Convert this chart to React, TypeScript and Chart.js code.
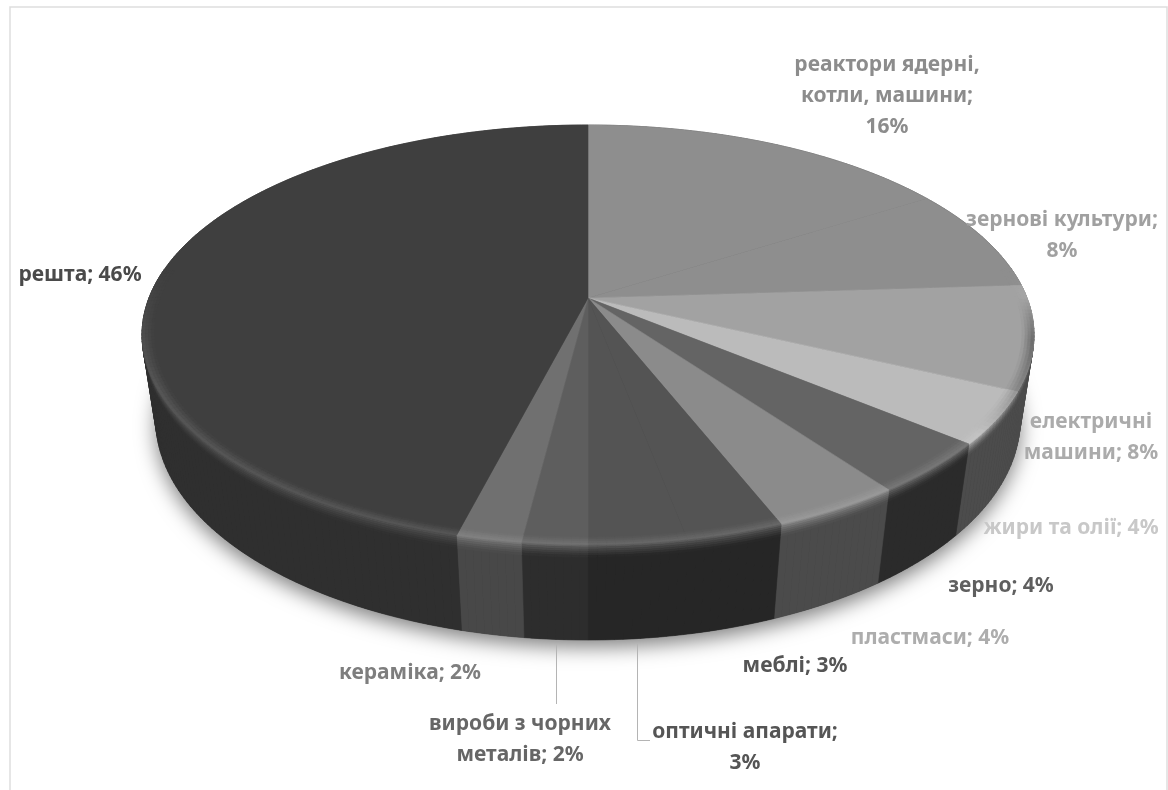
import React, { useEffect, useRef } from "react";
import { Chart, registerables } from "chart.js";

Chart.register(...registerables);

// ---- data ----
const categories = [
  "реактори ядерні, котли, машини",
  "зернові культури",
  "електричні машини",
  "жири та олії",
  "зерно",
  "пластмаси",
  "меблі",
  "оптичні апарати",
  "вироби з чорних металів",
  "кераміка",
  "решта",
];
const shares = [16, 8, 8, 4, 4, 4, 3, 3, 2, 2, 46];
const topColors = ["#8e8e8e", "#8e8e8e", "#a2a2a2", "#bbbbbb", "#646464", "#8b8b8b", "#545454", "#545454", "#5e5e5e", "#707070", "#3f3f3f"];
const sideColors = ["#505050", "#505050", "#4c4c4c", "#4c4c4c", "#2b2b2b", "#4b4b4b", "#262626", "#262626", "#2d2d2d", "#484848", "#2f2f2f"];
const labelLines = [
  ["реактори ядерні,", "котли, машини;", "16%"],
  ["зернові культури;", "8%"],
  ["електричні", "машини; 8%"],
  ["жири та олії; 4%"],
  ["зерно; 4%"],
  ["пластмаси; 4%"],
  ["меблі; 3%"],
  ["оптичні апарати;", "3%"],
  ["вироби з чорних", "металів; 2%"],
  ["кераміка; 2%"],
  ["решта; 46%"],
];
const labelColors = ["#8c8c8c", "#a0a0a0", "#ababab", "#c8c8c8", "#5f5f5f", "#adadad", "#555555", "#555555", "#666666", "#7e7e7e", "#4a4a4a"];

// ---- layout ----
const labelAnchors = [
  [887, 65], [1062, 220], [1091, 422], [1071, 528], [1001, 586],
  [930, 638], [795, 666], [745, 732], [520, 724], [410, 673], [80, 275],
];
const LINE_H = 31;
const CX = 588;
const topPlane = { R: 439, a: 151, b: 298, c: -0.176 };
const basePlane = { R: 426, a: 149.5, b: 383, c: -0.168 };

type Plane = typeof topPlane;
const project = (pl: Plane, r: number, th: number): [number, number] => {
  const u = r * Math.sin(th);
  const v = -r * Math.cos(th);
  const d = 1 + pl.c * v;
  return [CX + (pl.R * u) / d, (pl.b + pl.a * v) / d];
};
const onSide = (th: number, t: number): [number, number] => {
  const p = project(topPlane, 1, th);
  const q = project(basePlane, 1, th);
  return [p[0] + (q[0] - p[0]) * t, p[1] + (q[1] - p[1]) * t];
};
const hex = (s: string) => [1, 3, 5].map((i) => parseInt(s.slice(i, i + 2), 16));
const mix = (a: number[], b: number[], t: number) => a.map((x, i) => x + (b[i] - x) * t);
const css = (c: number[]) => `rgb(${c.map((x) => Math.round(x)).join(",")})`;
const clamp01 = (x: number) => Math.max(0, Math.min(1, x));

const quad = (ctx: CanvasRenderingContext2D, pts: [number, number][], color: string) => {
  ctx.beginPath();
  pts.forEach((p, i) => (i ? ctx.lineTo(p[0], p[1]) : ctx.moveTo(p[0], p[1])));
  ctx.closePath();
  ctx.fillStyle = color;
  ctx.strokeStyle = color;
  ctx.lineWidth = 0.6;
  ctx.fill();
  ctx.stroke();
};

const pie3d = {
  id: "pie3d",
  beforeDatasetsDraw(chart: any) {
    const ctx: CanvasRenderingContext2D = chart.ctx;
    const arcs = chart.getDatasetMeta(0).data;
    const bg = chart.data.datasets[0].backgroundColor as string[];
    const span = arcs.map((a: any) => [a.startAngle + Math.PI / 2, a.endAngle + Math.PI / 2]);
    const steps = (s: number, e: number) => Math.max(2, Math.ceil(((e - s) * 180) / Math.PI));

    // frame
    ctx.save();
    ctx.strokeStyle = "#dedede";
    ctx.lineWidth = 1.5;
    ctx.beginPath();
    ctx.moveTo(10, 800);
    ctx.lineTo(10, 7);
    ctx.lineTo(1167, 7);
    ctx.lineTo(1167, 800);
    ctx.stroke();

    // soft shadow under the base
    ctx.save();
    ctx.shadowColor = "rgba(0,0,0,0.5)";
    ctx.shadowBlur = 20;
    ctx.shadowOffsetY = 7;
    ctx.fillStyle = "#333";
    ctx.beginPath();
    for (let i = 0; i <= 180; i++) {
      const p = project(basePlane, 1, (i * Math.PI) / 90);
      i ? ctx.lineTo(p[0], p[1]) : ctx.moveTo(p[0], p[1]);
    }
    ctx.closePath();
    ctx.fill();
    ctx.restore();

    // side wall
    span.forEach(([s, e]: number[], k: number) => {
      const n = steps(s, e);
      for (let i = 0; i < n; i++) {
        const a = s + ((e - s) * i) / n;
        const b = s + ((e - s) * (i + 1)) / n;
        quad(ctx, [onSide(a, 0), onSide(b, 0), onSide(b, 1), onSide(a, 1)], sideColors[k]);
      }
    });

    const strength = (th: number) => clamp01((-Math.cos(th) + 0.15) / 0.55);
    const rimColor = (k: number, th: number) => {
      const top = hex(bg[k]);
      const side = hex(sideColors[k]);
      const lit = mix(top, [255, 255, 255], 0.13 * strength(th));
      const dark = clamp01((Math.sin(th) - 0.8) / 0.2) * clamp01(-Math.cos(th) / 0.2);
      return mix(lit, side, 0.8 * dark);
    };
    const BEVEL_SIDE = 0.13;
    const BEVEL_TOP = 0.026;
    const STRIPS = 6;

    // rounded shoulder on the wall
    span.forEach(([s, e]: number[], k: number) => {
      const n = steps(s, e);
      const side = hex(sideColors[k]);
      for (let i = 0; i < n; i++) {
        const a = s + ((e - s) * i) / n;
        const b = s + ((e - s) * (i + 1)) / n;
        const mid = (a + b) / 2;
        if (strength(mid) <= 0) continue;
        const ridge = rimColor(k, mid);
        for (let j = 0; j < STRIPS; j++) {
          const t0 = (BEVEL_SIDE * j) / STRIPS;
          const t1 = (BEVEL_SIDE * (j + 1)) / STRIPS;
          const f = Math.pow((j + 0.5) / STRIPS, 0.6);
          quad(ctx, [onSide(a, t0), onSide(b, t0), onSide(b, t1), onSide(a, t1)], css(mix(ridge, side, f)));
        }
      }
    });

    // top face
    span.forEach(([s, e]: number[], k: number) => {
      const n = steps(s, e);
      const pts: [number, number][] = [project(topPlane, 0, s)];
      for (let i = 0; i <= n; i++) pts.push(project(topPlane, 1, s + ((e - s) * i) / n));
      quad(ctx, pts, bg[k]);
    });

    // rim highlight on the top face
    span.forEach(([s, e]: number[], k: number) => {
      const n = steps(s, e);
      const top = hex(bg[k]);
      for (let i = 0; i < n; i++) {
        const a = s + ((e - s) * i) / n;
        const b = s + ((e - s) * (i + 1)) / n;
        const mid = (a + b) / 2;
        if (strength(mid) <= 0) continue;
        const ridge = rimColor(k, mid);
        for (let j = 0; j < 4; j++) {
          const r0 = 1 - BEVEL_TOP + (BEVEL_TOP * j) / 4;
          const r1 = 1 - BEVEL_TOP + (BEVEL_TOP * (j + 1)) / 4;
          quad(
            ctx,
            [project(topPlane, r0, a), project(topPlane, r0, b), project(topPlane, r1, b), project(topPlane, r1, a)],
            css(mix(top, ridge, (j + 0.5) / 4))
          );
        }
      }
    });

    // leader lines
    ctx.strokeStyle = "#b4b4b4";
    ctx.lineWidth = 1;
    ctx.beginPath();
    ctx.moveTo(556.5, 644);
    ctx.lineTo(556.5, 704);
    ctx.moveTo(637.5, 644);
    ctx.lineTo(637.5, 740.5);
    ctx.lineTo(650, 740.5);
    ctx.stroke();

    // data labels
    ctx.font = 'bold 21px "Noto Sans"';
    ctx.textAlign = "center";
    ctx.textBaseline = "middle";
    labelLines.forEach((lines, k) => {
      ctx.fillStyle = labelColors[k];
      lines.forEach((line, i) => ctx.fillText(line, labelAnchors[k][0], labelAnchors[k][1] + i * LINE_H));
    });
    ctx.restore();
    return false;
  },
};

export default function App() {
  const ref = useRef<HTMLCanvasElement>(null);
  useEffect(() => {
    const chart = new Chart(ref.current as HTMLCanvasElement, {
      type: "pie",
      data: {
        labels: categories,
        datasets: [{ data: shares, backgroundColor: topColors, borderWidth: 0 }],
      },
      options: {
        responsive: false,
        animation: false,
        plugins: { legend: { display: false }, tooltip: { enabled: false } },
      },
      plugins: [pie3d],
    } as any);
    return () => chart.destroy();
  }, []);
  return (
    <div style={{ position: "absolute", left: 0, top: 0, width: 1168, height: 790, background: "#fff", overflow: "hidden" }}>
      <canvas ref={ref} width={1168} height={790} style={{ display: "block", filter: "blur(0.5px)" }} />
    </div>
  );
}
